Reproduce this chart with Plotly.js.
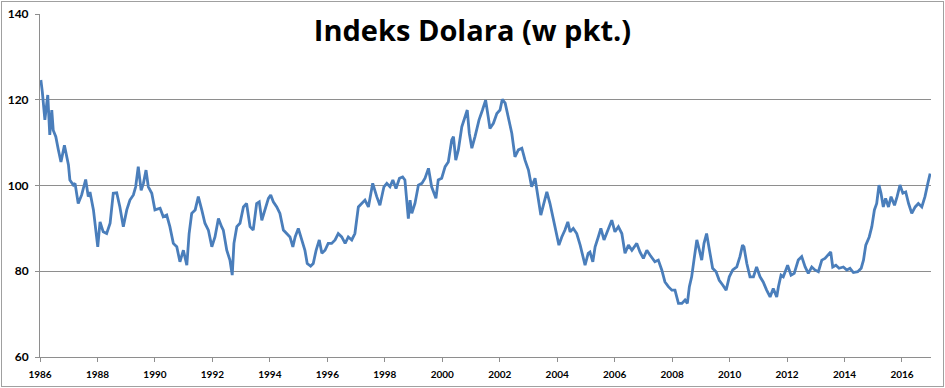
<!DOCTYPE html>
<html>
<head>
<meta charset="utf-8">
<script src="https://cdn.plot.ly/plotly-3.0.1.min.js"></script>
<style>
html,body{margin:0;padding:0;background:#fff;}
#wrap{position:absolute;left:1px;top:1px;width:941px;height:384px;border:1px solid #a0a0a0;}
#chart{width:941px;height:384px;}
</style>
</head>
<body>
<div id="wrap"><div id="chart"></div></div>
<script>
// Decimal year of each observation
const years = [
1986.03,1986.08,1986.17,1986.27,1986.34,1986.41,1986.46,1986.55,1986.64,1986.73,1986.85,1986.93,1986.99,
1987.04,1987.16,1987.22,1987.33,1987.45,1987.59,1987.68,1987.74,1987.86,1987.91,
1988.01,1988.09,1988.20,1988.32,1988.44,1988.55,1988.67,1988.78,1988.90,
1989.02,1989.13,1989.25,1989.33,1989.42,1989.52,1989.60,1989.69,1989.77,1989.89,
1990.00,1990.18,1990.29,1990.41,1990.52,1990.64,1990.76,1990.87,1990.99,
1991.11,1991.19,1991.28,1991.40,1991.51,1991.63,1991.74,1991.86,1991.98,
1992.09,1992.21,1992.32,1992.38,1992.50,1992.61,1992.69,1992.75,1992.85,1992.96,
1993.08,1993.19,1993.31,1993.42,1993.54,1993.63,1993.72,1993.83,1993.95,
1994.03,1994.12,1994.24,1994.35,1994.47,1994.59,1994.70,1994.80,1994.88,1994.99,
1995.11,1995.22,1995.30,1995.42,1995.51,1995.61,1995.72,1995.81,1995.92,
1996.03,1996.15,1996.27,1996.38,1996.50,1996.62,1996.73,1996.85,1996.96,
1997.08,1997.20,1997.31,1997.43,1997.58,1997.72,1997.83,1997.97,
1998.07,1998.18,1998.28,1998.39,1998.51,1998.62,1998.70,1998.82,1998.88,1998.94,
1999.05,1999.17,1999.29,1999.40,1999.52,1999.63,1999.78,1999.86,1999.98,
2000.10,2000.21,2000.33,2000.39,2000.47,2000.56,2000.68,2000.79,2000.87,2000.94,
2001.03,2001.14,2001.28,2001.40,2001.51,2001.60,2001.66,2001.78,2001.90,
2002.01,2002.09,2002.19,2002.30,2002.42,2002.53,2002.65,2002.77,2002.88,
2003.00,2003.11,2003.23,2003.34,2003.43,2003.52,2003.64,2003.75,2003.87,2003.98,
2004.06,2004.16,2004.27,2004.37,2004.45,2004.56,2004.68,2004.80,2004.91,2004.97,
2005.08,2005.14,2005.24,2005.32,2005.43,2005.52,2005.63,2005.75,2005.90,
2006.01,2006.13,2006.25,2006.36,2006.48,2006.60,2006.77,2006.88,
2007.00,2007.12,2007.23,2007.40,2007.52,2007.64,2007.75,2007.87,2007.99,
2008.10,2008.22,2008.34,2008.45,2008.53,2008.60,2008.68,2008.76,2008.86,2008.95,
2009.03,2009.11,2009.20,2009.30,2009.41,2009.53,2009.64,2009.76,2009.88,2009.99,
2010.11,2010.25,2010.36,2010.45,2010.50,2010.60,2010.71,2010.83,2010.94,
2011.06,2011.17,2011.29,2011.41,2011.52,2011.64,2011.70,2011.79,2011.87,
2012.02,2012.14,2012.25,2012.39,2012.51,2012.63,2012.74,2012.86,2012.97,
2013.09,2013.21,2013.32,2013.44,2013.52,2013.59,2013.70,2013.81,2013.96,
2014.08,2014.19,2014.31,2014.46,2014.58,2014.66,2014.74,2014.86,2014.95,
2015.04,2015.12,2015.20,2015.27,2015.35,2015.43,2015.53,2015.62,2015.74,2015.83,2015.93,
2016.03,2016.13,2016.23,2016.34,2016.46,2016.57,2016.69,2016.80,2016.90,2016.98
];
// Dollar index value (points)
const values = [
124.6,121.9,115.3,121.1,111.8,117.6,112.9,111.4,108.3,105.5,109.4,106.7,104.8,
101.3,100.1,100.5,95.8,97.8,101.4,97.4,98.5,94.3,91.2,
85.7,91.5,89.2,88.8,91.2,98.2,98.3,95.0,90.4,
94.3,96.6,97.8,99.7,104.4,98.9,100.5,103.6,99.7,98.2,
94.3,94.7,92.7,93.1,90.4,86.5,85.7,82.2,84.9,
81.4,88.8,93.5,94.3,97.4,94.3,91.2,89.6,85.7,
88.0,92.3,90.4,89.6,84.9,82.6,79.1,86.5,90.4,91.2,
95.0,95.8,90.4,89.6,95.8,96.2,91.9,94.3,97.0,
97.8,96.2,95.0,93.5,89.6,88.8,88.0,85.7,88.0,90.0,
87.3,84.9,81.8,81.2,81.8,84.9,87.3,84.2,84.9,
86.5,86.5,87.3,88.8,88.0,86.5,88.0,87.3,88.8,
95.0,95.8,96.6,95.0,100.5,97.4,95.4,99.7,
100.5,99.7,101.3,99.3,101.7,102.0,101.3,92.3,96.6,93.5,
95.8,100.1,100.5,101.7,104.0,99.7,97.0,101.3,101.7,
104.4,105.5,110.6,111.4,105.9,108.3,113.7,116.0,117.6,112.2,
108.7,111.4,115.3,117.6,119.9,116.0,113.3,114.5,116.8,
117.6,120.1,119.2,116.0,112.2,106.7,108.3,108.7,105.9,
103.6,99.7,101.7,97.4,93.1,95.4,98.5,95.8,91.9,88.8,
86.1,88.0,89.6,91.5,89.2,90.0,88.8,86.1,82.6,81.4,
84.2,84.5,82.2,85.7,88.0,90.0,87.3,89.2,91.9,
89.2,90.4,88.8,84.2,86.1,84.9,86.5,84.5,
83.0,84.9,83.8,82.2,82.6,80.3,77.5,76.4,75.6,
75.6,72.5,72.5,73.3,72.5,76.4,78.7,82.6,87.3,84.9,
82.6,86.5,88.8,84.9,80.7,79.9,77.9,76.8,75.6,78.7,
80.3,81.0,83.4,86.1,85.7,81.8,78.7,78.7,81.0,
78.7,77.5,75.6,74.0,76.0,74.0,76.4,79.1,78.7,
81.4,79.1,79.5,82.6,83.4,81.0,79.5,81.0,80.3,
79.9,82.6,83.0,83.8,84.5,81.0,81.4,80.7,81.0,
80.3,80.7,79.7,79.9,80.7,82.6,86.1,88.0,90.4,
94.3,95.8,100.1,98.2,95.0,97.0,95.0,97.4,95.4,97.4,100.1,
98.2,98.5,95.8,93.5,95.0,95.8,95.0,97.4,100.5,102.8
];
const xTicks = [1986,1988,1990,1992,1994,1996,1998,2000,2002,2004,2006,2008,2010,2012,2014,2016];
const xTickLabels = xTicks.map(String);
const yTicks = [60,80,100,120,140];

const trace = {
  x: years, y: values, type: 'scatter', mode: 'lines',
  line: {color: '#4a7ebb', width: 2.8},
  hoverinfo: 'x+y'
};
const layout = {
  width: 941, height: 384,
  margin: {l: 38, r: 12, t: 12, b: 29},
  paper_bgcolor: '#ffffff', plot_bgcolor: '#ffffff',
  showlegend: false,
  title: {text: 'Indeks Dolara (w pkt.)', x: 0.5, xref: 'container', xanchor: 'center',
          y: 0.925, yref: 'container', yanchor: 'middle',
          font: {family: '"Open Sans", Lato, sans-serif', size: 29, color: '#000', weight: 'bold'}},
  xaxis: {
    range: [1986, 2017.01], tickvals: xTicks, ticktext: xTickLabels,
    showgrid: false, zeroline: false, showline: true, linecolor: '#8e8e8e', linewidth: 1,
    ticks: 'outside', ticklen: 4, tickcolor: '#8e8e8e', tickwidth: 1,
    tickfont: {family: 'Lato, sans-serif', size: 10, color: '#000', weight: 'bold'},
    ticklabelstandoff: 4
  },
  yaxis: {
    range: [60, 140], tickvals: yTicks, ticktext: yTicks.map(String),
    showgrid: true, gridcolor: '#8e8e8e', gridwidth: 1, zeroline: false,
    showline: true, linecolor: '#8e8e8e', linewidth: 1,
    ticks: 'outside', ticklen: 4, tickcolor: '#8e8e8e', tickwidth: 1,
    tickfont: {family: 'Lato, sans-serif', size: 12, color: '#000', weight: 'bold'},
    ticklabelstandoff: 4
  }
};
Plotly.newPlot('chart', [trace], layout, {displayModeBar: false, staticPlot: true});
</script>
</body>
</html>
